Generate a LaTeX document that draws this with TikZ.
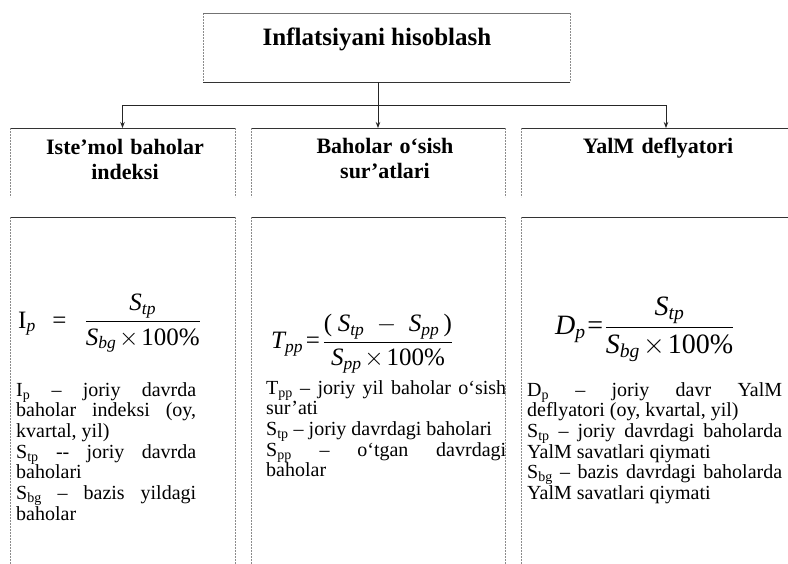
\RequirePackage{fix-cm}
\documentclass[tikz,border=0pt]{standalone}
\usepackage{amsmath}
\usepackage{fontspec}
\setmainfont{Liberation Serif}
\usetikzlibrary{arrows.meta}
\hyphenpenalty=10000
\exhyphenpenalty=10000
\lineskiplimit=-30pt
\lineskip=0pt
\newcommand\vv[1]{\textit{#1}}
\begin{document}
\begin{tikzpicture}[x=1pt,y=-1pt,
  box/.style={inner sep=0pt, outer sep=0pt},
  hedge/.style={draw=black!80, line width=0.9pt},
  vedge/.style={draw=black!45, line width=0.7pt, dash pattern=on 2pt off 1pt},
  conn/.style={draw=black!85, line width=0.9pt},
  arr/.style={conn, -{Stealth[length=6pt,width=4.5pt]}},
  ttlf/.style={font=\fontsize{25}{28}\selectfont\bfseries, inner sep=0pt},
  hdf/.style={font=\fontsize{22}{25}\selectfont\bfseries, inner sep=0pt, align=center, text width=230pt},
  bodyf/.style={font=\fontsize{20}{20.7}\selectfont, inner sep=0pt, align=justify},
  fml/.style={inner sep=0pt, anchor=base west},
]
\useasboundingbox (0,0) rectangle (788,563);
\clip (0,0) rectangle (788,563);
\fill[white] (0,0) rectangle (788,563);

% boxes
\node[box, minimum width=367pt, minimum height=69pt] (top) at (386.5,47.5) {};
\node[box, minimum width=225pt, minimum height=69pt] (hd1) at (122.5,162.5) {};
\node[box, minimum width=254pt, minimum height=69pt] (hd2) at (378,162.5) {};
\node[box, minimum width=290pt, minimum height=69pt] (hd3) at (666,162.5) {};
\node[box, minimum width=225pt, minimum height=360pt] (bd1) at (122.5,397) {};
\node[box, minimum width=254pt, minimum height=360pt] (bd2) at (378,397) {};
\node[box, minimum width=290pt, minimum height=360pt] (bd3) at (666,397) {};

\foreach \b in {hd1,hd2,hd3,bd1,bd2,bd3}{
  \draw[hedge] (\b.north west) -- (\b.north east);
}
\foreach \b in {top,hd1,hd2,hd3,bd1,bd2,bd3}{
  \draw[vedge] (\b.north west) -- (\b.south west);
  \draw[vedge] (\b.north east) -- (\b.south east);
}
\draw[hedge, draw=black!55] (top.north west) -- (top.north east);
\draw[hedge] (top.south west) -- (top.south east);

% connectors
\coordinate (j) at (378,105);
\draw[conn] (top.south -| j) -- (j);
\draw[arr] (j) -- (hd2.north);
\draw[arr] (j) -| (hd1.north);
\draw[arr] (j) -| (hd3.north);

% titles
\node[ttlf, anchor=base] (ttl) at (377,45) {Inflatsiyani hisoblash};
\node[hdf, anchor=base] (h1t) at (125,154) {Iste’mol baholar\\indeksi};
\node[hdf, anchor=base] (h2t) at (385,153) {Baholar o‘sish\\sur’atlari};
\node[hdf, anchor=base] (h3t) at (658,153) {YalM deflyatori};

% formulas
\node[fml, font=\fontsize{25}{30}\selectfont] (f1) at (18,328)
  {$\thickmuskip=4mu\displaystyle \text{I}_{\vv{p}}\mkern8mu \mathrel{\text{=}}\enskip
    \frac{\vv{S}_{\vv{tp}}}{\vv{S}_{\vv{bg}}\mkern2mu{\times}\mkern2mu\text{100\%}}$};
\node[fml, font=\fontsize{25}{30}\selectfont] (f2) at (271,348.5)
  {$\thickmuskip=2mu\medmuskip=9mu\displaystyle \vv{T}_{\vv{pp}} \mathrel{\text{=}}
    \frac{\text{(}\mkern4mu\vv{S}_{\vv{tp}} - \vv{S}_{\vv{pp}}\mkern3mu\text{)}}{\vv{S}_{\vv{pp}}\mkern2mu{\times}\mkern2mu\text{100\%}}$};
\node[fml, font=\fontsize{28}{34}\selectfont] (f3) at (555,334.5)
  {$\thickmuskip=1mu\displaystyle \vv{D}_{\vv{p}} \mathrel{\text{=}}
    \frac{\vv{S}_{\vv{tp}}}{\vv{S}_{\vv{bg}}\mkern2mu{\times}\mkern2mu\text{100\%}}$};

% body texts
\node[bodyf, text width=180pt, anchor=base west] (b1t) at (16,396)
  {I\textsubscript{p} – joriy davrda\linebreak baholar indeksi (oy,\linebreak kvartal, yil)\par
   S\textsubscript{tp} -{}- joriy davrda\linebreak baholari\par
   S\textsubscript{bg} – bazis yildagi\linebreak baholar};
\node[bodyf, text width=240pt, anchor=base west] (b2t) at (266,394)
  {T\textsubscript{pp} – joriy yil baholar o‘sish\linebreak sur’ati\par
   S\textsubscript{tp} – joriy davrdagi baholari\par
   S\textsubscript{pp} – o‘tgan davrdagi\linebreak baholar};
\node[bodyf, text width=255pt, anchor=base west] (b3t) at (527,396)
  {D\textsubscript{p} – joriy davr YalM\linebreak deflyatori (oy, kvartal, yil)\par
   S\textsubscript{tp} – joriy davrdagi baholarda\linebreak YalM savatlari qiymati\par
   S\textsubscript{bg} – bazis davrdagi baholarda\linebreak YalM savatlari qiymati};
\end{tikzpicture}
\end{document}
